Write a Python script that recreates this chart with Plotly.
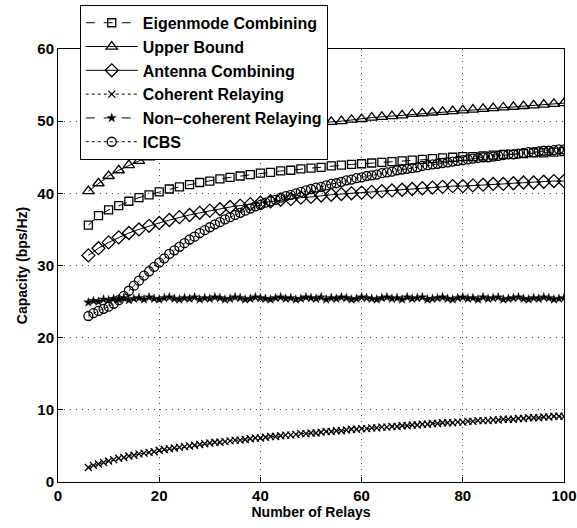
import plotly.graph_objects as go

# Sparse series (every 2 relays)
x_sparse = list(range(6, 101, 2))
eigenmode = [35.6, 36.9, 37.7, 38.3, 38.9, 39.4, 39.8, 40.2, 40.6, 40.9,
             41.2, 41.5, 41.7, 42.0, 42.2, 42.4, 42.6, 42.8, 42.9, 43.1,
             43.2, 43.4, 43.5, 43.6, 43.8, 43.9, 44.0, 44.1, 44.2, 44.3,
             44.4, 44.5, 44.6, 44.7, 44.8, 44.9, 45.0, 45.1, 45.1, 45.2,
             45.3, 45.4, 45.4, 45.5, 45.6, 45.6, 45.7, 45.8]
upper = [40.3, 41.4, 42.4, 43.2, 43.9, 44.5, 45.0, 45.5, 45.9, 46.3,
         46.7, 47.0, 47.3, 47.6, 47.9, 48.1, 48.4, 48.6, 48.8, 49.0,
         49.2, 49.4, 49.6, 49.7, 49.9, 50.0, 50.2, 50.3, 50.5, 50.6,
         50.7, 50.8, 51.0, 51.1, 51.2, 51.3, 51.4, 51.5, 51.6, 51.7,
         51.8, 51.9, 52.0, 52.1, 52.2, 52.3, 52.4, 52.5]
antenna = [31.4, 32.4, 33.2, 33.9, 34.5, 35.0, 35.5, 35.9, 36.3, 36.7,
           37.0, 37.3, 37.6, 37.8, 38.1, 38.3, 38.5, 38.7, 38.9, 39.1,
           39.2, 39.4, 39.5, 39.7, 39.8, 39.9, 40.0, 40.1, 40.2, 40.3,
           40.4, 40.5, 40.6, 40.7, 40.8, 40.9, 41.0, 41.0, 41.1, 41.2,
           41.3, 41.3, 41.4, 41.5, 41.5, 41.6, 41.7, 41.7]

# Dense series (every relay)
x_dense = list(range(6, 101))
coherent = [2.0, 2.3, 2.5, 2.7, 2.9, 3.1, 3.3, 3.4, 3.6, 3.7,
            3.9, 4.0, 4.1, 4.2, 4.4, 4.5, 4.6, 4.7, 4.8, 4.9,
            5.0, 5.1, 5.2, 5.3, 5.4, 5.5, 5.5, 5.6, 5.7, 5.8,
            5.8, 5.9, 6.0, 6.1, 6.1, 6.2, 6.3, 6.3, 6.4, 6.5,
            6.5, 6.6, 6.7, 6.7, 6.8, 6.8, 6.9, 7.0, 7.0, 7.1,
            7.1, 7.2, 7.3, 7.3, 7.4, 7.4, 7.5, 7.5, 7.6, 7.6,
            7.7, 7.7, 7.8, 7.8, 7.9, 7.9, 8.0, 8.0, 8.1, 8.1,
            8.2, 8.2, 8.2, 8.3, 8.3, 8.4, 8.4, 8.5, 8.5, 8.5,
            8.6, 8.6, 8.7, 8.7, 8.7, 8.8, 8.8, 8.9, 8.9, 8.9,
            9.0, 9.0, 9.1, 9.1, 9.1]
noncoherent = [24.9, 25.1, 25.0, 25.3, 25.2, 25.4, 25.3, 25.5, 25.2, 25.4,
               25.5, 25.3, 25.6, 25.4, 25.3, 25.5, 25.6, 25.4, 25.3, 25.5,
               25.4, 25.6, 25.3, 25.5, 25.4, 25.6, 25.5, 25.3, 25.4, 25.6,
               25.5, 25.3, 25.4, 25.6, 25.5, 25.4, 25.3, 25.5, 25.6, 25.4,
               25.5, 25.3, 25.4, 25.6, 25.5, 25.4, 25.6, 25.3, 25.5, 25.4,
               25.6, 25.5, 25.3, 25.4, 25.6, 25.5, 25.4, 25.3, 25.5, 25.6,
               25.4, 25.5, 25.3, 25.6, 25.4, 25.5, 25.6, 25.3, 25.4, 25.5,
               25.6, 25.4, 25.3, 25.5, 25.6, 25.4, 25.5, 25.3, 25.6, 25.4,
               25.5, 25.6, 25.3, 25.4, 25.5, 25.6, 25.4, 25.3, 25.5, 25.4,
               25.6, 25.5, 25.3, 25.4, 25.5]
icbs = [23.0, 23.4, 23.7, 24.0, 24.3, 24.7, 25.2, 25.8, 26.5, 27.2,
        27.9, 28.6, 29.2, 29.8, 30.4, 31.0, 31.6, 32.1, 32.6, 33.1,
        33.6, 34.0, 34.5, 34.9, 35.3, 35.7, 36.0, 36.4, 36.7, 37.0,
        37.3, 37.6, 37.9, 38.2, 38.4, 38.7, 38.9, 39.1, 39.4, 39.6,
        39.8, 40.0, 40.2, 40.4, 40.6, 40.8, 40.9, 41.1, 41.3, 41.4,
        41.6, 41.8, 41.9, 42.1, 42.2, 42.4, 42.5, 42.6, 42.8, 42.9,
        43.0, 43.2, 43.3, 43.4, 43.5, 43.6, 43.8, 43.9, 44.0, 44.1,
        44.2, 44.3, 44.4, 44.5, 44.6, 44.7, 44.8, 44.9, 45.0, 45.0,
        45.1, 45.2, 45.3, 45.4, 45.4, 45.5, 45.6, 45.7, 45.7, 45.8,
        45.9, 45.9, 46.0, 46.1, 46.1]

names = ["Eigenmode Combining", "Upper Bound", "Antenna Combining",
         "Coherent Relaying", "Non\u2013coherent Relaying", "ICBS"]

FONT = "Liberation Sans"
fig = go.Figure()

def add(x, y, name, dash, symbol, size, lw=1.3):
    fig.add_trace(go.Scatter(
        x=x, y=y, name=name, mode="lines+markers",
        line=dict(color="black", width=1, dash=dash),
        marker=dict(symbol=symbol, size=size, color="black",
                    line=dict(color="black", width=lw)),
    ))

add(x_sparse, eigenmode, names[0], "dash", "square-open", 8)
add(x_sparse, upper, names[1], "solid", "triangle-up-open", 10)
add(x_sparse, antenna, names[2], "solid", "diamond-open", 10)
add(x_dense, coherent, names[3], "dot", "x-thin-open", 7)
add(x_dense, noncoherent, names[4], "dash", "star", 7, lw=0.3)
add(x_dense, icbs, names[5], "dot", "circle-open", 9)

axis_common = dict(
    showline=True, linecolor="black", linewidth=1, mirror=True,
    ticks="inside", ticklen=5, tickcolor="black",
    showgrid=True, gridcolor="rgba(0,0,0,0.7)", gridwidth=1, griddash="1px,5px",
    zeroline=False, automargin=False,
    tickfont=dict(family=FONT, size=15, color="black", weight="bold"),
)

fig.update_layout(
    width=577, height=528,
    margin=dict(l=58, r=13, t=49, b=46, autoexpand=False),
    paper_bgcolor="white", plot_bgcolor="white",
    font=dict(family=FONT, color="black"),
    xaxis=dict(range=[0, 100], tickvals=[0, 20, 40, 60, 80, 100],
               ticklabeloverflow="allow", **axis_common,
               title=dict(text="Number of Relays", standoff=4,
                          font=dict(family=FONT, size=14, color="black", weight="bold"))),
    yaxis=dict(range=[0, 60], dtick=10, **axis_common,
               title=dict(text="Capacity (bps/Hz)", standoff=6,
                          font=dict(family=FONT, size=14, color="black", weight="bold"))),
    legend=dict(x=0.043, y=1.102, xanchor="left", yanchor="top",
                bgcolor="white", bordercolor="black", borderwidth=1,
                font=dict(family=FONT, size=16, color="black", weight="bold"),
                itemwidth=52),
    showlegend=True,
)

fig.write_html("out.html")
